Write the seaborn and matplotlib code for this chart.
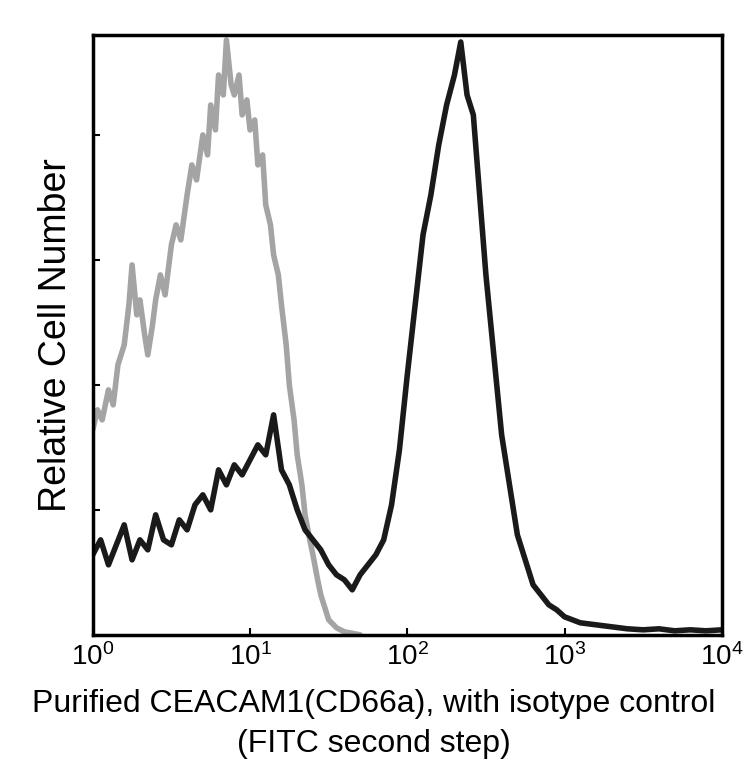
import numpy as np
import matplotlib
matplotlib.use("Agg")
import matplotlib.pyplot as plt
import seaborn as sns

# log10 positions of the histogram channels
iso_logx = [0.0, 0.03, 0.06, 0.1, 0.13, 0.16, 0.2, 0.23, 0.25, 0.28, 0.3, 0.33, 0.35, 0.38,
            0.4, 0.43, 0.46, 0.5, 0.53, 0.56, 0.6, 0.63, 0.66, 0.7, 0.73, 0.75, 0.78, 0.8,
            0.83, 0.85, 0.88, 0.9, 0.93, 0.95, 0.98, 1.0, 1.03, 1.05, 1.08, 1.1, 1.13, 1.15,
            1.18, 1.2, 1.23, 1.25, 1.28, 1.3, 1.33, 1.35, 1.38, 1.4, 1.43, 1.45, 1.48, 1.5,
            1.55, 1.6, 1.7]
iso_counts = [205, 225, 215, 245, 230, 270, 290, 330, 370, 320, 335, 300, 280, 310,
              335, 360, 340, 390, 410, 395, 440, 470, 455, 500, 480, 530, 505, 560,
              540, 595, 550, 540, 560, 520, 535, 505, 515, 470, 480, 430, 410, 380,
              360, 330, 290, 250, 215, 180, 150, 120, 95, 80, 55, 40, 25, 15,
              7, 3, 0]

ceacam_logx = [0.0, 0.05, 0.1, 0.15, 0.2, 0.25, 0.3, 0.35, 0.4, 0.45, 0.5, 0.55, 0.6, 0.65,
               0.7, 0.75, 0.8, 0.85, 0.9, 0.95, 1.0, 1.05, 1.1, 1.15, 1.2, 1.25, 1.3, 1.35,
               1.4, 1.45, 1.5, 1.55, 1.6, 1.65, 1.7, 1.75, 1.8, 1.85, 1.9, 1.95, 2.0, 2.05,
               2.1, 2.15, 2.2, 2.25, 2.3, 2.34, 2.38, 2.42, 2.46, 2.5, 2.55, 2.6, 2.65, 2.7,
               2.75, 2.8, 2.85, 2.9, 2.95, 3.0, 3.1, 3.2, 3.3, 3.4, 3.5, 3.6, 3.7, 3.8, 3.9, 4.0]
ceacam_counts = [80, 95, 70, 90, 110, 75, 95, 85, 120, 95, 90, 115, 105, 130,
                 140, 125, 165, 150, 170, 160, 175, 190, 180, 220, 165, 150, 125, 105,
                 95, 85, 70, 60, 55, 45, 60, 70, 80, 95, 130, 185, 260, 330,
                 400, 440, 490, 530, 560, 593, 540, 520, 440, 360, 280, 200, 150, 100,
                 75, 50, 40, 30, 25, 18, 12, 10, 8, 6, 5, 6, 4, 5, 4, 5]

sns.set_theme(style="ticks")
plt.rcParams['font.family'] = ['Liberation Sans', 'DejaVu Sans']
plt.rcParams['mathtext.fontset'] = 'custom'
plt.rcParams['mathtext.rm'] = 'Liberation Sans'
plt.rcParams['mathtext.it'] = 'Liberation Sans'

fig, ax = plt.subplots(figsize=(7.48, 7.77), dpi=100)
fig.subplots_adjust(left=0.124, right=0.965, bottom=0.183, top=0.955)

sns.lineplot(x=10 ** np.array(iso_logx), y=iso_counts, ax=ax, color="#9a9a9a", lw=4, alpha=0.9)
sns.lineplot(x=10 ** np.array(ceacam_logx), y=ceacam_counts, ax=ax, color="#1a1a1a", lw=4)

ax.set_xscale("log")
ax.set_xlim(1, 1e4)
ax.set_ylim(0, 600)
ax.set_xticks([1, 10, 100, 1000, 10000])
ax.set_xticklabels([r"$10^0$", r"$10^1$", r"$10^2$", r"$10^3$", r"$10^4$"], fontsize=20, color="black")
ax.xaxis.set_minor_locator(matplotlib.ticker.NullLocator())
ax.set_yticks([125, 250, 375, 500])
ax.set_yticklabels([])
ax.tick_params(axis="both", direction="in", length=5, width=1.5, color="black")
ax.tick_params(axis="x", pad=6)
for s in ax.spines.values():
    s.set_linewidth(2.5)
    s.set_color("black")

ax.set_ylabel("Relative Cell Number", fontsize=27, labelpad=10, color="black")
fig.text(0.5, 0.068, "Purified CEACAM1(CD66a), with isotype control\n(FITC second step)",
         fontsize=23, linespacing=1.45, color="black", ha="center", va="center")

plt.savefig("out.png", dpi=100)
